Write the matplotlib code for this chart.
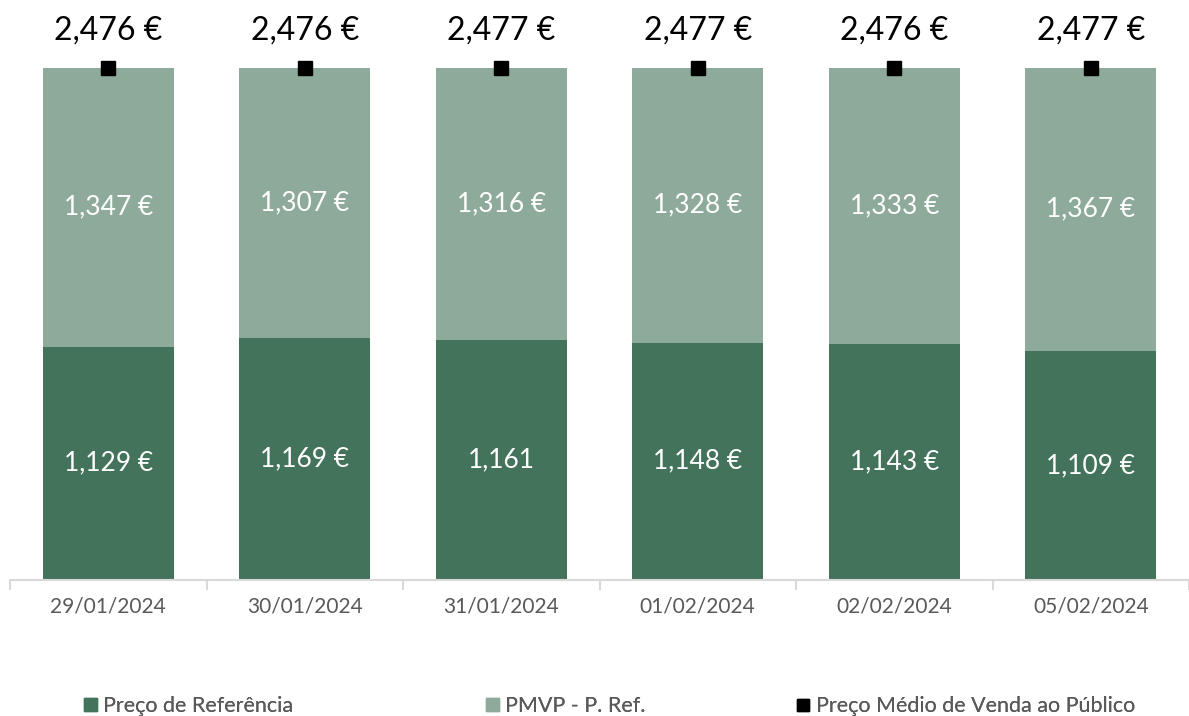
import matplotlib
matplotlib.use("Agg")
import matplotlib.pyplot as plt
from matplotlib.lines import Line2D
from matplotlib.patches import Patch
import numpy as np

plt.rcParams["font.family"] = ["Lato", "DejaVu Sans"]

# data
datas = ["29/01/2024", "30/01/2024", "31/01/2024", "01/02/2024", "02/02/2024", "05/02/2024"]
preco_ref = [1.129, 1.169, 1.161, 1.148, 1.143, 1.109]
pmvp_menos_ref = [1.347, 1.307, 1.316, 1.328, 1.333, 1.367]
pmvp = [2.476, 2.476, 2.477, 2.477, 2.476, 2.477]
rotulos_ref = ["1,129 €", "1,169 €", "1,161", "1,148 €", "1,143 €", "1,109 €"]
rotulos_dif = ["1,347 €", "1,307 €", "1,316 €", "1,328 €", "1,333 €", "1,367 €"]
rotulos_pmvp = ["2,476 €", "2,476 €", "2,477 €", "2,477 €", "2,476 €", "2,477 €"]

VERDE_ESC = "#44735c"
VERDE_CLR = "#8eaa9b"
CINZA = "#595959"

W, H = 1189, 716
fig = plt.figure(figsize=(W / 100, H / 100), dpi=100)
# eixo: x de 10 px ate a borda, base em y=580 px
ax = fig.add_axes([10 / W, 1 - 580 / H, 1 - 10 / W, 540 / H])

x = np.arange(len(datas))
larg = 0.667
ax.bar(x, preco_ref, larg, color=VERDE_ESC, zorder=2)
ax.bar(x, pmvp_menos_ref, larg, bottom=preco_ref, color=VERDE_CLR, zorder=2)
ax.plot(x, pmvp, ls="none", marker="s", ms=10, color="black", zorder=3, clip_on=False)

for i in range(len(datas)):
    ax.text(x[i], preco_ref[i] / 2, rotulos_ref[i], ha="center", va="center",
            color="white", fontsize=19)
    ax.text(x[i], preco_ref[i] + pmvp_menos_ref[i] / 2, rotulos_dif[i], ha="center",
            va="center", color="white", fontsize=19)
    ax.text(x[i], pmvp[i] + 0.18, rotulos_pmvp[i], ha="center", va="center",
            color="black", fontsize=23)

ax.set_xlim(-0.5, -0.5 + (W - 10) / 198)
ax.set_ylim(0, 540 / 206.8)

for s in ["top", "right", "left"]:
    ax.spines[s].set_visible(False)
ax.spines["bottom"].set_color("#d9d9d9")
ax.spines["bottom"].set_linewidth(1.5)
ax.set_yticks([])
ax.set_xticks(x)
ax.set_xticklabels(datas, fontsize=15, color=CINZA)
ax.tick_params(axis="x", length=0, pad=12)
# marcas entre categorias
ax.set_xticks(np.arange(-0.5, len(datas), 1), minor=True)
ax.tick_params(axis="x", which="minor", length=7, color="#d9d9d9", width=1.5)

# legenda: tres itens posicionados separadamente
itens = [
    (Patch(color=VERDE_ESC, label="Preço de Referência"), 84),
    (Patch(color=VERDE_CLR, label="PMVP - P. Ref."), 486),
    (Line2D([], [], ls="none", marker="s", ms=9, color="black",
            label="Preço Médio de Venda ao Público"), 797),
]
for h, px in itens:
    leg = fig.legend(handles=[h], loc="center left", bbox_to_anchor=(px / W, 1 - 706 / H),
                     frameon=False, fontsize=15.5, labelcolor=CINZA, handlelength=0.6,
                     handleheight=0.6, handletextpad=0.3, borderpad=0, borderaxespad=0)
    fig.add_artist(leg)

fig.savefig("out.png", dpi=100)
